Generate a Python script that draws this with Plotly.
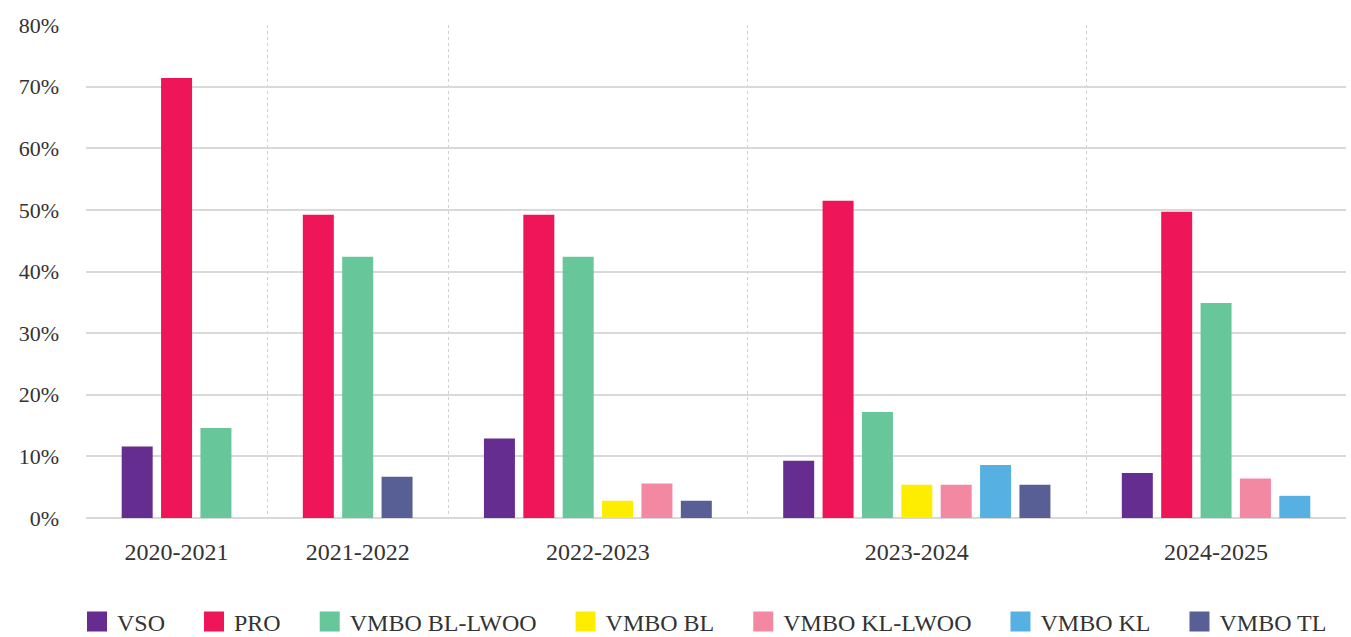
import plotly.graph_objects as go

years = ["2020-2021", "2021-2022", "2022-2023", "2023-2024", "2024-2025"]
series_names = ["VSO", "PRO", "VMBO BL-LWOO", "VMBO BL", "VMBO KL-LWOO", "VMBO KL", "VMBO TL"]
series_colors = ["#652D90", "#EE1558", "#67C69A", "#FFED00", "#F388A3", "#56B0E2", "#575F94"]

vso = [11.6, None, 12.9, 9.3, 7.3]
pro = [71.4, 49.2, 49.2, 51.5, 49.7]
bl_lwoo = [14.6, 42.4, 42.4, 17.2, 34.9]
bl = [None, None, 2.8, 5.4, None]
kl_lwoo = [None, None, 5.6, 5.4, 6.4]
kl = [None, None, None, 8.6, 3.6]
tl = [None, 6.7, 2.8, 5.4, None]
series_values = [vso, pro, bl_lwoo, bl, kl_lwoo, kl, tl]

y_ticks = [0, 10, 20, 30, 40, 50, 60, 70, 80]

# layout of slots: each category only holds the bars that exist
PAD = 1.6
BAR_W = 0.787
FONT = "Liberation Serif"

xs = [[] for _ in series_names]
ys = [[] for _ in series_names]
centers, bounds = [], []
start = 0.0
for gi, yr in enumerate(years):
    present = [si for si, vals in enumerate(series_values) if vals[gi] is not None]
    n = len(present)
    for k, si in enumerate(present):
        xs[si].append(start + PAD / 2 + 0.5 + k)
        ys[si].append(series_values[si][gi])
    centers.append(start + (n + PAD) / 2)
    start += n + PAD
    bounds.append(start)
total = start

fig = go.Figure()
for si, name in enumerate(series_names):
    fig.add_trace(go.Bar(
        x=xs[si], y=ys[si], width=BAR_W, name=name,
        marker=dict(color=series_colors[si], line=dict(width=0)),
        showlegend=False, hovertemplate=name + ": %{y}%<extra></extra>",
    ))
for si, name in enumerate(series_names):
    label = name + ("\u00a0" * 4 if si < len(series_names) - 1 else "")
    fig.add_trace(go.Scatter(
        x=[None], y=[None], mode="markers", name=label,
        marker=dict(symbol="square", size=16, color=series_colors[si],
                    line=dict(color=series_colors[si], width=4)),
        showlegend=True,
    ))

fig.update_layout(
    width=1351, height=637,
    margin=dict(l=86, r=5, t=25, b=119),
    plot_bgcolor="white", paper_bgcolor="white",
    barmode="overlay",
    font=dict(family=FONT, color="#333333", size=22),
    showlegend=True,
    legend=dict(orientation="h", xref="container", x=77 / 1351, xanchor="left",
                yref="container", y=(637 - 622) / 637, yanchor="middle",
                font=dict(size=24, family=FONT, color="#333333"),
                itemsizing="trace", tracegroupgap=0, traceorder="normal"),
    xaxis=dict(range=[0, total], tickmode="array", tickvals=centers, ticktext=years,
               showgrid=False, zeroline=False, showline=False, ticks="",
               tickfont=dict(size=24), ticklabelstandoff=17,
               minor=dict(tickmode="array", tickvals=bounds[:-1], showgrid=True,
                          gridcolor="#d0d0d0", griddash="dot", gridwidth=1, ticks="")),
    yaxis=dict(range=[0, 80], tickmode="array", tickvals=y_ticks,
               ticktext=[f"{v}%" for v in y_ticks],
               showgrid=True, gridcolor="#d9d9d9", gridwidth=1.5,
               zeroline=True, zerolinecolor="#d9d9d9", zerolinewidth=1.5,
               showline=False, ticks="", tickfont=dict(size=22), ticklabelstandoff=26),
)

fig.write_html("out.html", config={"displayModeBar": False},
               post_script="document.body.style.margin='0';document.body.style.overflow='hidden';")
